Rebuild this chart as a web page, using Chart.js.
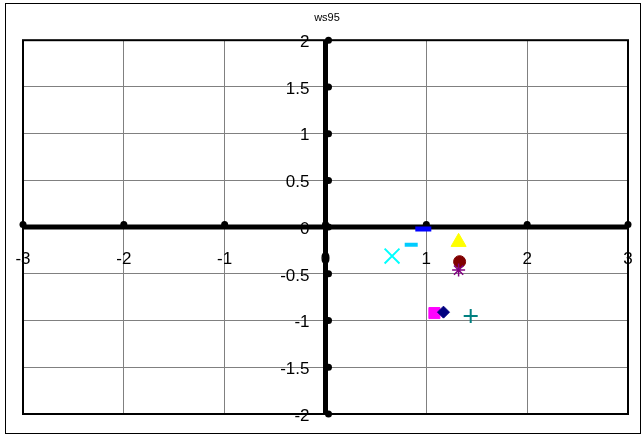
<!DOCTYPE html>
<html>
<head>
<meta charset="utf-8">
<script src="https://cdn.jsdelivr.net/npm/chart.js@4.4.1/dist/chart.umd.min.js"></script>
<style>
    body { margin: 0; background: #fff; }
    canvas { display: block; }
</style>
</head>
<body>
<canvas id="chart" width="641" height="435"></canvas>
<script>
const seriesNames = ['Series1', 'Series2', 'Series3', 'Series4', 'Series5', 'Series6', 'Series7', 'Series8', 'Series9'];
const xValues = [1.17, 1.08, 1.32, 0.66, 1.32, 1.33, 1.44, 0.97, 0.85];
const yValues = [-0.91, -0.92, -0.16, -0.31, -0.46, -0.37, -0.95, -0.02, -0.19];
const xRange = [-3, 3];
const yRange = [-2, 2];
const xStep = 1;
const yStep = 0.5;

// Excel-style markers, one per series
const markerStyles = ['rectRot', 'rect', 'triangle', 'crossRot', 'star', 'circle', 'cross', 'line', 'line'];
const markerColors = ['#000080', '#FF00FF', '#FFFF00', '#00FFFF', '#800080', '#800000', '#008080', '#0000FF', '#00CCFF'];
const markerRadius = [6, 7.8, 8.7, 10.5, 6.5, 6, 7, 8, 6.5];
const markerBorder = [1, 1, 1, 2, 1.5, 1, 2, 5, 4];
const filled = [true, true, true, false, false, true, false, false, false];

const FONT = '"Liberation Sans", Arial, sans-serif';
const fmt = v => String(Math.round(v * 100) / 100);

const excelAxes = {
    id: 'excelAxes',
    beforeDatasetsDraw(chart) {
        const { ctx, chartArea: a, scales: { x, y } } = chart;
        const x0 = x.getPixelForValue(0);
        const y0 = y.getPixelForValue(0);
        ctx.save();

        // tick labels next to the crossing axes
        ctx.fillStyle = '#000';
        ctx.font = '17px ' + FONT;
        ctx.textAlign = 'center';
        ctx.textBaseline = 'middle';
        x.ticks.forEach(t => {
            ctx.fillText(fmt(t.value), x.getPixelForValue(t.value), y0 + 32);
        });
        ctx.textAlign = 'right';
        y.ticks.forEach(t => {
            ctx.fillText(fmt(t.value), x0 - 16, y.getPixelForValue(t.value) + 2);
        });

        // plot frame
        ctx.strokeStyle = '#000';
        ctx.lineWidth = 2;
        ctx.strokeRect(a.left, a.top, a.right - a.left, a.bottom - a.top);

        // thick axes through the origin
        ctx.lineWidth = 5;
        ctx.beginPath();
        ctx.moveTo(a.left, y0);
        ctx.lineTo(a.right, y0);
        ctx.moveTo(x0, a.top);
        ctx.lineTo(x0, a.bottom);
        ctx.stroke();

        // round tick marks
        ctx.fillStyle = '#000';
        x.ticks.forEach(t => {
            ctx.beginPath();
            ctx.arc(x.getPixelForValue(t.value), y0 - 2.5, 3.5, 0, Math.PI * 2);
            ctx.fill();
        });
        y.ticks.forEach(t => {
            ctx.beginPath();
            ctx.arc(x0 + 3, y.getPixelForValue(t.value), 3.5, 0, Math.PI * 2);
            ctx.fill();
        });
        ctx.restore();
    },
    afterDraw(chart) {
        const { ctx } = chart;
        ctx.save();
        ctx.strokeStyle = '#000';
        ctx.lineWidth = 1;
        ctx.strokeRect(5.5, 3.5, 635, 430);
        ctx.restore();
    },
};

const datasets = seriesNames.map((name, i) => ({
    label: name,
    data: [{ x: xValues[i], y: yValues[i] }],
    pointStyle: markerStyles[i],
    pointRadius: markerRadius[i],
    pointBorderWidth: markerBorder[i],
    borderColor: markerColors[i],
    backgroundColor: filled[i] ? markerColors[i] : 'transparent',
    showLine: false,
}));

new Chart(document.getElementById('chart'), {
    type: 'scatter',
    data: { datasets },
    options: {
        responsive: false,
        animation: false,
        layout: { padding: { left: 23, right: 10, bottom: 21, top: 0 } },
        plugins: {
            legend: { display: false },
            tooltip: { enabled: false },
            title: {
                display: true,
                text: 'ws95',
                color: '#000',
                font: { family: FONT, size: 11, weight: 'normal' },
                padding: { top: 11, bottom: 16 },
            },
        },
        scales: {
            x: {
                min: xRange[0],
                max: xRange[1],
                ticks: { stepSize: xStep, display: false },
                grid: { color: '#808080', lineWidth: 1, drawTicks: false },
                border: { display: false },
            },
            y: {
                min: yRange[0],
                max: yRange[1],
                ticks: { stepSize: yStep, display: false },
                grid: { color: '#808080', lineWidth: 1, drawTicks: false },
                border: { display: false },
            },
        },
    },
    plugins: [excelAxes],
});
</script>
</body>
</html>
